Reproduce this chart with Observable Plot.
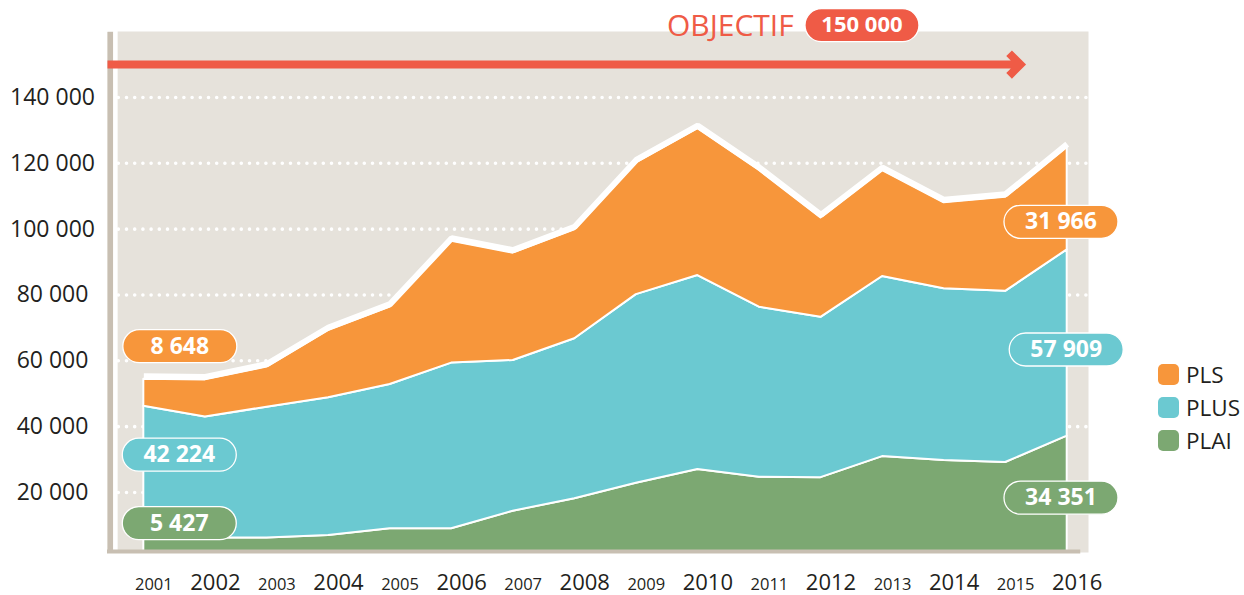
<!DOCTYPE html>
<html>
<head>
<meta charset="utf-8">
<script src="https://cdn.jsdelivr.net/npm/d3@7"></script>
<script src="https://cdn.jsdelivr.net/npm/@observablehq/plot@0.6"></script>
<style>
  body { margin: 0; background: #fff; font-family: "Open Sans", sans-serif; }
  #wrap { position: relative; width: 1244px; height: 595px; }
  #legend { position: absolute; left: 1158px; top: 358px; }
  .item { display: flex; align-items: center; height: 33px; font-size: 22.5px; color: #231f20; }
  .sw { width: 21px; height: 21px; border-radius: 5px; margin-right: 7px; }
</style>
</head>
<body>
<div id="wrap"><div id="chart"></div><div id="legend"></div></div>
<script>
// ---- data ----
const years = [2001, 2002, 2003, 2004, 2005, 2006, 2007, 2008, 2009, 2010, 2011, 2012, 2013, 2014, 2015, 2016];
const plai  = [6200, 6200, 6200, 6900, 9000, 9000, 14300, 18100, 22800, 27000, 24600, 24500, 30900, 29700, 29100, 37100];
const plus  = [40000, 36700, 39700, 41900, 43800, 50300, 45800, 48600, 57300, 58900, 51700, 48700, 54700, 52200, 52000, 56600];
const pls   = [8200, 11300, 12200, 20400, 23500, 37000, 32600, 33100, 40000, 44600, 41500, 30200, 32200, 26100, 28600, 31200];
const seriesNames = ["PLS", "PLUS", "PLAI"];
const yTicks = [20000, 40000, 60000, 80000, 100000, 120000, 140000];
const pillTexts = ["8 648", "42 224", "5 427", "31 966", "57 909", "34 351"];
const pillSeries = ["PLS", "PLUS", "PLAI", "PLS", "PLUS", "PLAI"];
const objectiveValue = 150000;
const objectiveWord = "OBJECTIF";
const objectiveText = "150 000";

// ---- styles / layout ----
const COLORS = {PLS: "#f7963b", PLUS: "#6bc9d1", PLAI: "#7ca872"};
const BEIGE = "#e6e2db", TAN = "#c8bfb2", RED = "#ef5b46", INK = "#231f20";
const X0 = 2000.41, X1 = 2016.346;
const Y0 = 1760, Y1 = 160040;
const ARROW_END = 2015.24, AXIS_END = 2016.22;
// pill anchor positions (data units)
const pillX = [2001.585, 2001.576, 2001.576, 2015.899, 2015.984, 2015.899];
const pillY = [64430, 31470, 10660, 102230, 63430, 18410];

const stackOrder = ["PLAI", "PLUS", "PLS"];
const valuesBy = {PLAI: plai, PLUS: plus, PLS: pls};
const data = stackOrder.flatMap(s => years.map((year, i) => ({year, series: s, value: valuesBy[s][i]})));
const totals = years.map((year, i) => ({year, total: plai[i] + plus[i] + pls[i]}));
const pills = pillTexts.map((t, i) => ({text: t, series: pillSeries[i], x: pillX[i], y: pillY[i]}));
const fmt = v => d3.format(",")(v).replace(/,/g, " ");

const PW = 114, PH = 33;
const pillSymbol = {
  draw(ctx) {
    const r = PH / 2, w = PW / 2;
    ctx.moveTo(-w + r, -r);
    ctx.lineTo(w - r, -r);
    ctx.arc(w - r, 0, r, -Math.PI / 2, Math.PI / 2);
    ctx.lineTo(-w + r, r);
    ctx.arc(-w + r, 0, r, Math.PI / 2, 3 * Math.PI / 2);
    ctx.closePath();
  }
};

const chart = Plot.plot({
  width: 1244,
  height: 595,
  marginLeft: 107,
  marginRight: 156,
  marginTop: 31,
  marginBottom: 43,
  style: {fontFamily: "'Open Sans', sans-serif", background: "white", color: INK},
  x: {type: "linear", domain: [X0, X1], axis: null},
  y: {domain: [Y0, Y1], axis: null},
  color: {domain: seriesNames, range: seriesNames.map(s => COLORS[s])},
  marks: [
    Plot.frame({fill: BEIGE, stroke: "none"}),
    Plot.ruleY(yTicks, {stroke: "white", strokeWidth: 3.6, strokeDasharray: "0 8.2", strokeLinecap: "round", strokeDashoffset: 5.1}),
    Plot.areaY(data, {x: "year", y: "value", fill: "series", order: stackOrder, stroke: "white", strokeWidth: 2, clip: true}),
    Plot.lineY(totals, {x: "year", y: "total", stroke: "white", strokeWidth: 6, dy: -3, strokeLinejoin: "miter", strokeLinecap: "butt"}),
    Plot.ruleX([X0], {stroke: "white", strokeWidth: 4.5, dx: 7.9}),
    Plot.ruleX([X0], {stroke: TAN, strokeWidth: 5.5, dx: 2.75, y1: Y0, y2: Y1, insetBottom: -1}),
    Plot.ruleY([Y0], {x1: X0, x2: AXIS_END, stroke: TAN, strokeWidth: 4, dy: -1}),
    Plot.arrow([objectiveValue], {x1: X0, x2: ARROW_END, y1: d => d, y2: d => d, stroke: RED, strokeWidth: 8,
      headAngle: 90, headLength: 3, strokeLinejoin: "miter", strokeMiterlimit: 4, strokeLinecap: "butt"}),
    // y tick labels
    Plot.text(yTicks, {y: d => d, text: fmt, frameAnchor: "left", dx: -55, textAnchor: "middle", fontSize: 23, fill: INK}),
    // x tick labels
    Plot.text(years, {x: d => d, text: d => String(d), frameAnchor: "bottom", lineAnchor: "bottom", dy: 37, dx: 10,
      fontSize: d => d % 2 === 0 ? 22 : 16.5, fill: INK}),
    // value pills
    Plot.dot(pills, {x: "x", y: "y", symbol: pillSymbol, fill: d => COLORS[d.series], stroke: "white", strokeWidth: 1.3, r: 10}),
    Plot.text(pills, {x: "x", y: "y", text: "text", fill: "white", fontWeight: 700, fontSize: 23}),
    // objective
    Plot.text([objectiveWord], {x: 2010.528, y: 161700, text: d => d, fill: RED, fontSize: 30}),
    Plot.dot([objectiveText], {x: 2012.666, y: 161950, symbol: pillSymbol, fill: RED, stroke: "white", strokeWidth: 1.3, r: 10}),
    Plot.text([objectiveText], {x: 2012.666, y: 161950, text: d => d, fill: "white", fontWeight: 700, fontSize: 22})
  ]
});
document.getElementById("chart").appendChild(chart);

const legend = document.getElementById("legend");
seriesNames.forEach(s => {
  const item = document.createElement("div");
  item.className = "item";
  item.innerHTML = `<div class="sw" style="background:${COLORS[s]}"></div><span>${s}</span>`;
  legend.appendChild(item);
});
</script>
</body>
</html>
